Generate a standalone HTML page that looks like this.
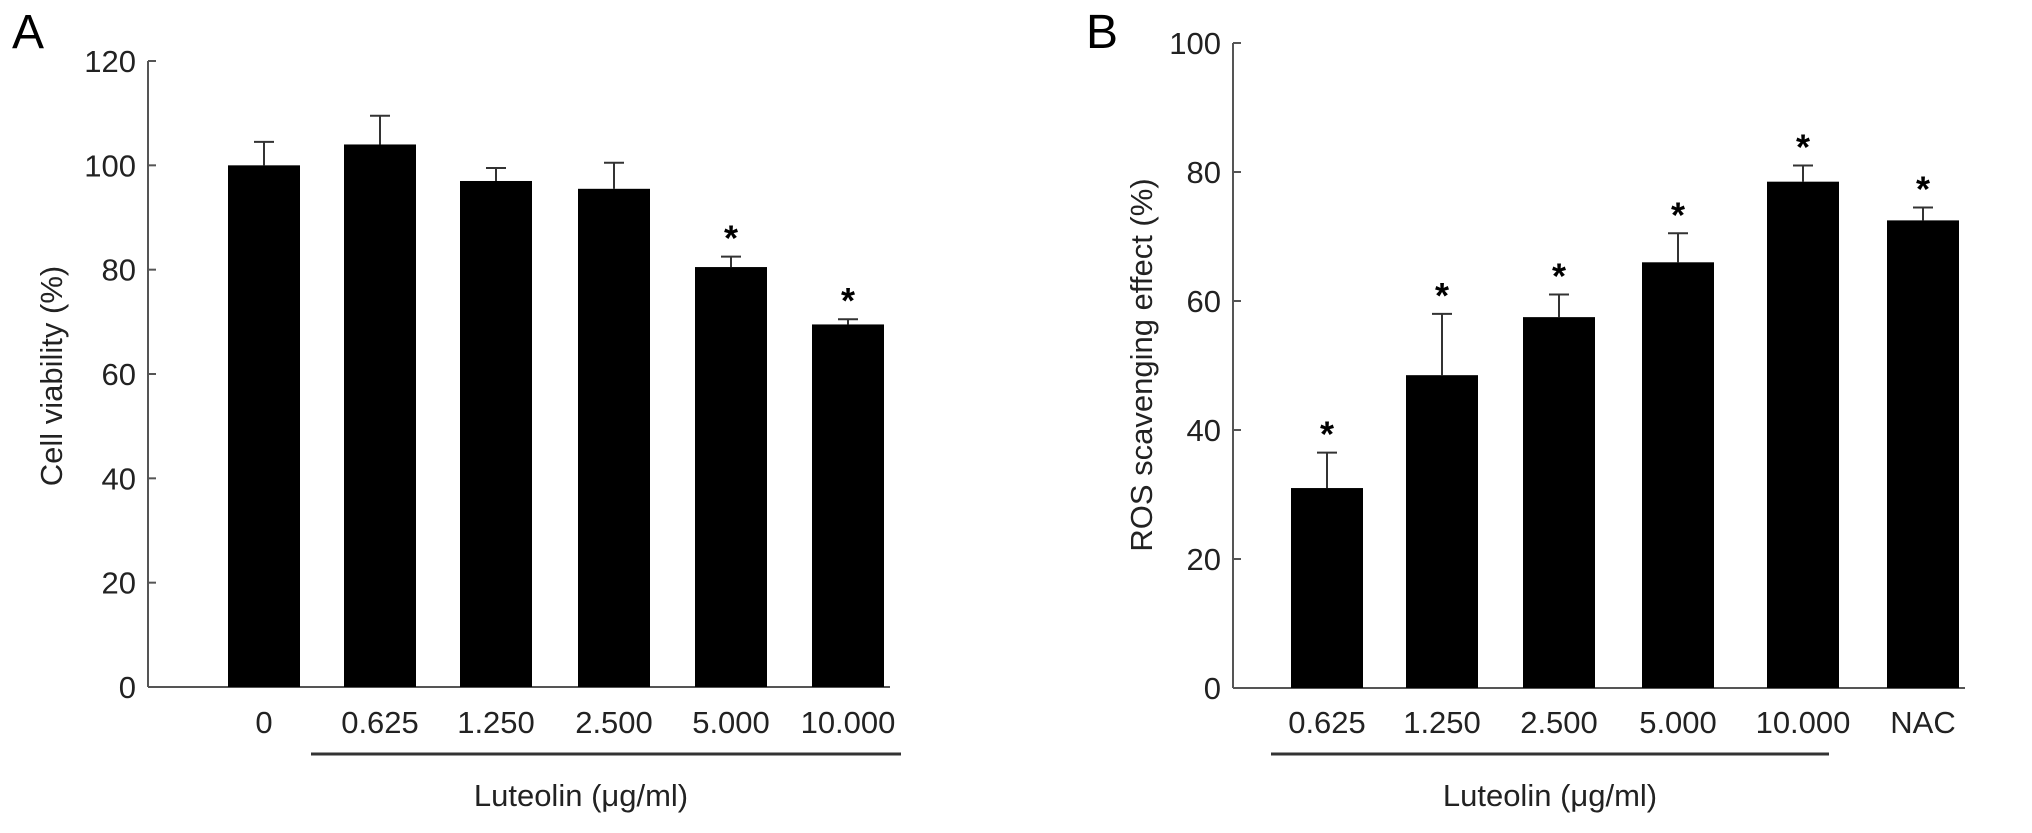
<!DOCTYPE html>
<html><head><meta charset="utf-8"><style>
html,body{margin:0;padding:0;background:#fff;}
svg{display:block;font-family:"Liberation Sans",Arial,sans-serif;}
</style></head><body>
<svg id="fig" width="2032" height="833" viewBox="0 0 2032 833" xmlns="http://www.w3.org/2000/svg">
<text x="12" y="48" font-size="48">A</text>
<text x="1086" y="48" font-size="48">B</text>
<g id="pa"></g>
<g id="pb"></g>
</svg>
<script>
const catsA = ["0","0.625","1.250","2.500","5.000","10.000"];
const valsA = [100,104,97,95.5,80.5,69.5];
const errA = [4.5,5.5,2.5,5,2,1];
const sigA = [false,false,false,false,true,true];
const ticksA = [0,20,40,60,80,100,120];

const catsB = ["0.625","1.250","2.500","5.000","10.000","NAC"];
const valsB = [31,48.5,57.5,66,78.5,72.5];
const errB = [5.5,9.5,3.5,4.5,2.5,2];
const sigB = [true,true,true,true,true,true];
const ticksB = [0,20,40,60,80,100];

const NS="http://www.w3.org/2000/svg";
function mk(parent,tag,attrs,text){const e=document.createElementNS(NS,tag);for(const k in attrs)e.setAttribute(k,attrs[k]);if(text!==undefined)e.textContent=text;parent.appendChild(e);return e;}

function draw(g,cfg){
  const {cats,vals,errs,sig,ticks,ax,y0,yTop,ymax,centers,bw,ytitle,ytx,yty,ul,xtx}=cfg;
  const y=v=>y0-(v/ymax)*(y0-yTop);
  let e=mk(g,'line',{x1:ax,y1:y0,x2:ax,y2:yTop,stroke:'#555','stroke-width':2});
  
  
  e=mk(g,'line',{x1:ax,y1:y0,x2:centers[centers.length-1]+bw/2+6,y2:y0,stroke:'#555','stroke-width':2});
  
  
  ticks.forEach(t=>{
    e=mk(g,'line',{x1:ax,y1:y(t),x2:ax+8,y2:y(t),stroke:'#555','stroke-width':2});
    
    
    e=mk(g,'text',{x:ax-12,y:y(t)+11,'font-size':31,'text-anchor':'end',fill:'#222'},String(t));
    
    
  });
  cats.forEach((c,i)=>{
    const cx=centers[i],top=y(vals[i]),et=y(vals[i]+errs[i]);
    e=mk(g,'line',{x1:cx,y1:top,x2:cx,y2:et,stroke:'#333','stroke-width':2});
    
    
    e=mk(g,'line',{x1:cx-10,y1:et,x2:cx+10,y2:et,stroke:'#333','stroke-width':2});
    
    
    e=mk(g,'rect',{x:cx-bw/2,y:top,width:bw,height:y0-top,fill:'#000'});
    
    
    if(sig[i]){
      e=mk(g,'text',{x:cx,y:et-6,'font-size':36,'font-weight':'bold','text-anchor':'middle'},'*');
      
      
    }
    e=mk(g,'text',{x:cx,y:733,'font-size':31,'text-anchor':'middle',fill:'#222'},c);
    
    
  });
  e=mk(g,'line',{x1:ul[0],y1:754,x2:ul[1],y2:754,stroke:'#333','stroke-width':3});
  
  
  e=mk(g,'text',{x:xtx,y:806,'font-size':31,'text-anchor':'middle',fill:'#222'},'Luteolin (μg/ml)');
  
  
  e=mk(g,'text',{x:ytx,y:yty,'font-size':31,'text-anchor':'middle',fill:'#222',transform:`rotate(-90 ${ytx} ${yty})`},ytitle);
  
  
}
draw(document.getElementById('pa'),{cats:catsA,vals:valsA,errs:errA,sig:sigA,ticks:ticksA,ax:148,y0:687,yTop:61,ymax:120,
  centers:[264,380,496,614,731,848],bw:72,ytitle:'Cell viability (%)',ytx:62,yty:376,ul:[311,901],xtx:581});
draw(document.getElementById('pb'),{cats:catsB,vals:valsB,errs:errB,sig:sigB,ticks:ticksB,ax:1233,y0:688,yTop:43,ymax:100,
  centers:[1327,1442,1559,1678,1803,1923],bw:72,ytitle:'ROS scavenging effect (%)',ytx:1152,yty:365,ul:[1271,1829],xtx:1550});
</script>
</body></html>
